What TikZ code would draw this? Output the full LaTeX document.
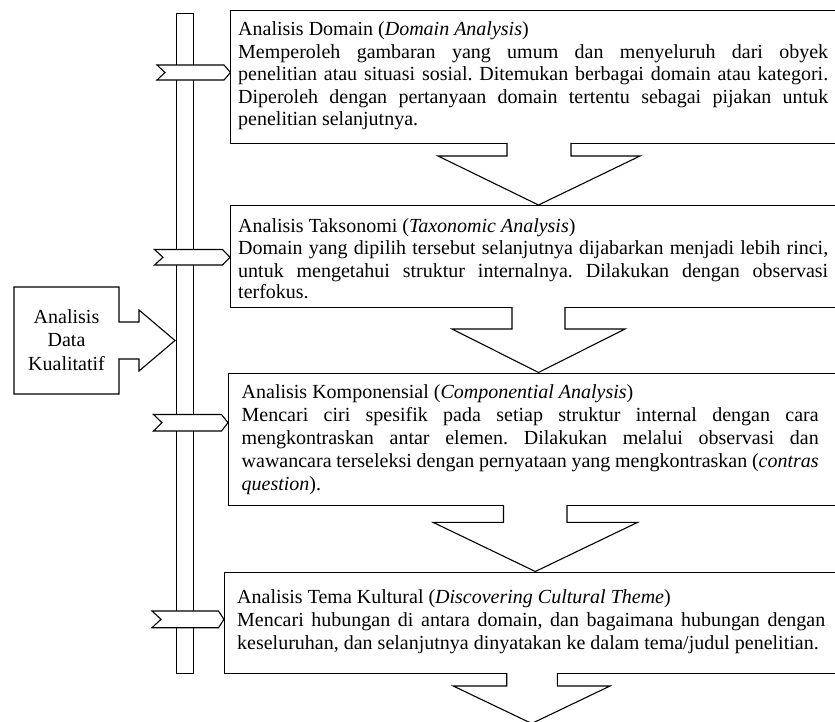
\documentclass[tikz,border=0pt]{standalone}
\usepackage{fontspec}
\setmainfont{Liberation Serif}
\tikzset{
  ln/.style={line width=1.1pt, draw=black, line join=miter},
  wshape/.style={ln, fill=white},
  boxnode/.style={ln, fill=white, rectangle, inner sep=0pt, anchor=north west},
  txt/.style={inner sep=0pt, anchor=base west, align=left, font=\fontsize{20}{#1}\selectfont\frenchspacing},
  txt/.default=22.5,
}
\newcommand{\jl}[2]{{\spaceskip=0pt\relax\xspaceskip=0pt\relax\makebox[#1][s]{#2}}}
\newcommand{\nl}[1]{{\spaceskip=0pt\relax\xspaceskip=0pt\relax\mbox{#1}}}
\begin{document}
\begin{tikzpicture}[x=1pt,y=-1pt]
\clip (0,0) rectangle (835,722);
% vertical bar
\node[boxnode, minimum width=17pt, minimum height=660pt] (bar) at (176,13) {};
% chevrons on the bar
\draw[wshape] (157,65) -- (224,65) -- (230.5,72.5) -- (224,80) -- (157,80) -- (165,72.5) -- cycle;
\draw[wshape] (154.5,249.5) -- (222.5,249.5) -- (230,257.3) -- (222.5,265) -- (154.5,265) -- (163,257.3) -- cycle;
\draw[wshape] (153.5,414.5) -- (221.5,414.5) -- (228,422.7) -- (221.5,431) -- (153.5,431) -- (162,422.7) -- cycle;
\draw[wshape] (152,611) -- (218.5,611) -- (224,619.3) -- (218.5,627.7) -- (152,627.7) -- (161,619.3) -- cycle;
% callout arrow
\draw[wshape] (14,287) -- (119,287) -- (119,322) -- (139,322) -- (139,310) -- (175,340.5)
  -- (139,371) -- (139,359) -- (119,359) -- (119,394) -- (14,394) -- cycle;
\node[inner sep=0pt, anchor=base, align=center, text width=100pt,
  font=\fontsize{20}{23.5}\selectfont] (adk) at (66.5,323) {Analisis\\Data\\Kualitatif};
% boxes
\node[boxnode, minimum width=620pt, minimum height=133pt] (b1) at (230,10) {};
\node[boxnode, minimum width=620pt, minimum height=102pt] (b2) at (230,205) {};
\node[boxnode, minimum width=620pt, minimum height=132pt] (b3) at (228,373) {};
\node[boxnode, minimum width=620pt, minimum height=101pt] (b4) at (224,572) {};
% down arrows
\fill[white] (507.8,140) rectangle (570.2,146);
\filldraw[wshape] (507,143) -- (507,156) -- (438,156) -- (538.5,205) -- (640,156) -- (571,156) -- (571,143);
\fill[white] (512.8,304) rectangle (564.2,310);
\filldraw[wshape] (512,307) -- (512,329) -- (452,329) -- (538.5,372.5) -- (625,329) -- (565,329) -- (565,307);
\fill[white] (504.3,502) rectangle (566.2,508);
\filldraw[wshape] (503.5,505) -- (503.5,522.3) -- (433,522.3) -- (535.3,571.5) -- (637.7,522.3) -- (567,522.3) -- (567,505);
\fill[white] (507.5,670) rectangle (556.5,676);
\filldraw[wshape] (506.7,673) -- (506.7,686) -- (453.3,686) -- (531.7,723.5) -- (610,686) -- (557.3,686) -- (557.3,673);
% texts
\node[txt, text width=590pt] (t1) at (238,36) {\nl{Analisis Domain (\textit{Domain Analysis})}\\
\jl{590pt}{Memperoleh gambaran yang umum dan menyeluruh dari obyek}\\
\jl{590pt}{penelitian atau situasi sosial. Ditemukan berbagai domain atau kategori.}\\
\jl{590pt}{Diperoleh dengan pertanyaan domain tertentu sebagai pijakan untuk}\\
\nl{penelitian selanjutnya.}};
\node[txt=22, text width=590pt] (t2) at (238,233) {\nl{Analisis Taksonomi (\textit{Taxonomic Analysis})}\\
\jl{590pt}{Domain yang dipilih tersebut selanjutnya dijabarkan menjadi lebih rinci,}\\
\jl{590pt}{untuk mengetahui struktur internalnya. Dilakukan dengan observasi}\\
\nl{terfokus.}};
\node[txt=23, text width=577pt] (t3) at (241.5,398) {\nl{Analisis Komponensial (\textit{Componential Analysis})}\\
\jl{577pt}{Mencari ciri spesifik pada setiap struktur internal dengan cara}\\
\jl{577pt}{mengkontraskan antar elemen. Dilakukan melalui observasi dan}\\
\jl{577pt}{wawancara terseleksi dengan pernyataan yang mengkontraskan (\textit{contras}}\\
\nl{\textit{question}).}};
\node[txt=23, text width=588pt] (t4) at (237,603) {\nl{Analisis Tema Kultural (\textit{Discovering Cultural Theme})}\\
\jl{588pt}{Mencari hubungan di antara domain, dan bagaimana hubungan dengan}\\
\nl{keseluruhan, dan selanjutnya dinyatakan ke dalam tema/judul penelitian.}};
\end{tikzpicture}
\end{document}
